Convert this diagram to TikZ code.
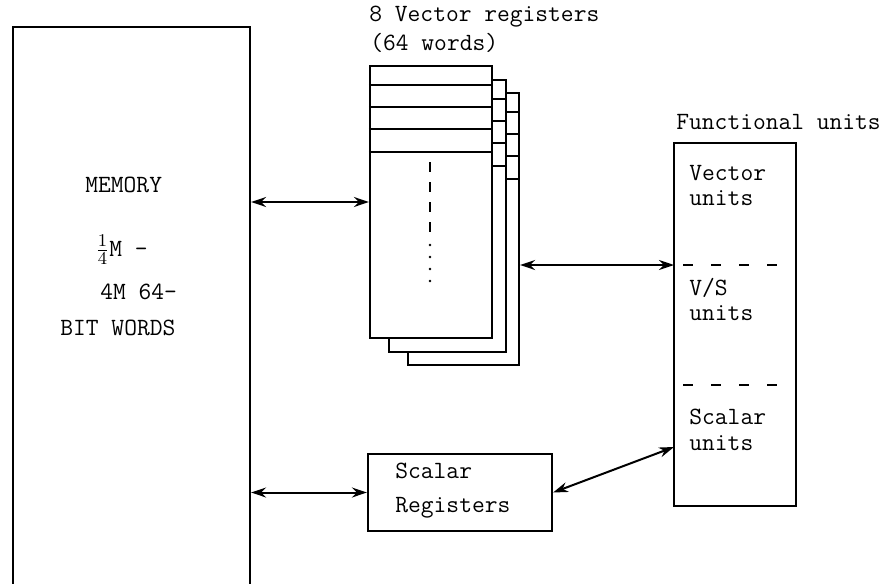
\documentclass[tikz,border=0pt]{standalone}
\usetikzlibrary{arrows.meta}
\begin{document}
\begin{tikzpicture}[x=0.5pt,y=-0.5pt]
\tikzset{
    >={Stealth[length=7.5pt,width=5pt]},
    caixa/.style={rectangle, draw=black, line width=1.1pt, fill=white, inner sep=0pt},
    ligacao/.style={<->, line width=1pt},
    divisao/.style={line width=1.1pt, dash pattern=on 5pt off 9pt},
    rotulo/.style={anchor=west, inner sep=0pt, font=\ttfamily\fontsize{12.4}{14}\selectfont}
}
\useasboundingbox (0,0) rectangle (882,583);
% Memoria
\node[caixa, minimum width=118.5pt, minimum height=300pt] (mem) at (131.5,327) {};
\node[rotulo] (tm1) at (85,185)  {MEMORY};
\node[rotulo] (tm2) at (95,250)  {$\frac{1}{4}$M -};
\node[rotulo] (tm3) at (100,292) {4M 64-};
\node[rotulo] (tm4) at (60,328)  {BIT WORDS};
% Registos vectoriais (de tras para a frente)
\foreach \i/\x/\y/\w in {3/463.5/229/55.5, 2/447.5/216/58.5, 1/431/202/61} {
    \node[caixa, minimum width=\w pt, minimum height=136pt] (v\i) at (\x,\y) {};
    \foreach \d in {20,42,64,87}
        \draw[line width=1.1pt] ([yshift=-\d*0.5pt]v\i.north west) -- ([yshift=-\d*0.5pt]v\i.north east);
}
\draw[line width=1.1pt, dash pattern=on 5pt off 5pt] (430,162) -- (430,236);
\draw[line width=1.3pt, line cap=round, dash pattern=on 0pt off 6pt] (430,245) -- (430,282);
\node[rotulo] (tv1) at (369,17) {8 Vector registers};
\node[rotulo] (tv2) at (370,43) {(64 words)};
% Unidades funcionais
\node[caixa, minimum width=61pt, minimum height=181.5pt] (fu) at (735,324.5) {};
\node[rotulo] (tfu) at (676,122) {Functional units};
\coordinate (vs) at (674,265);
\coordinate (ss) at (674,385);
\coordinate (su) at (674,447);
\draw[divisao] ([xshift=4.5pt]vs) -- (vs -| fu.east);
\draw[divisao] ([xshift=4.5pt]ss) -- (ss -| fu.east);
\node[rotulo] (tf1) at (689,173) {Vector};
\node[rotulo] (tf2) at (689,198) {units};
\node[rotulo] (tf3) at (689,288) {V/S};
\node[rotulo] (tf4) at (689,313) {units};
\node[rotulo] (tf5) at (689,417) {Scalar};
\node[rotulo] (tf6) at (689,443) {units};
% Registos escalares
\node[caixa, minimum width=92pt, minimum height=38.5pt] (sr) at (460,492.5) {};
\node[rotulo] (ts1) at (395,471) {Scalar};
\node[rotulo] (ts2) at (395,508) {Registers};
% Ligacoes
\draw[ligacao] (mem.east |- v1.west) -- (v1.west);
\draw[ligacao] (v3.east |- vs) -- (vs);
\draw[ligacao] (mem.east |- sr.west) -- (sr.west);
\draw[ligacao] (sr.east) -- (su);
\end{tikzpicture}
\end{document}
